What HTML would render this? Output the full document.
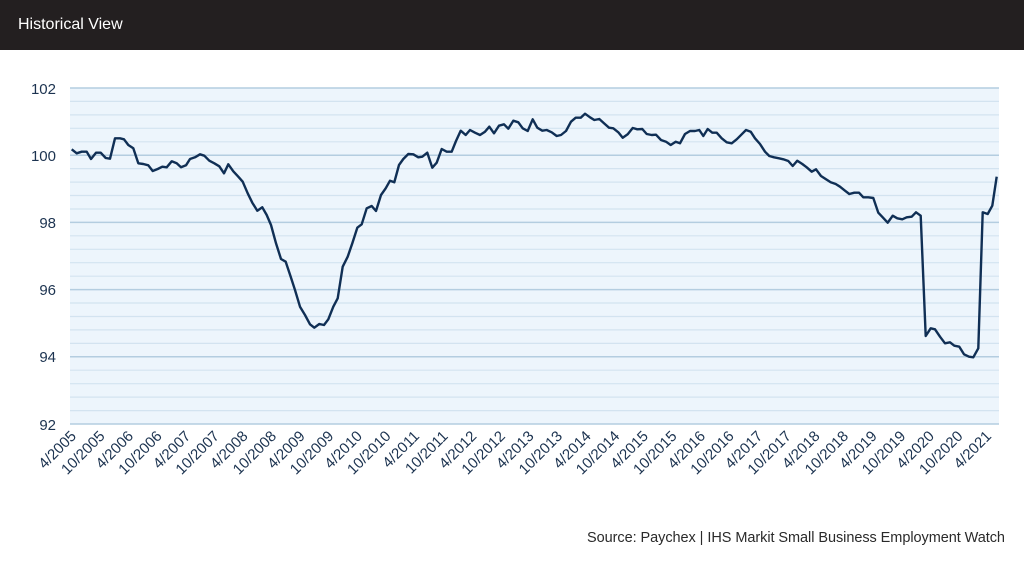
<!DOCTYPE html>
<html><head><meta charset="utf-8"><style>
body{margin:0;width:1024px;height:562px;background:#fff;overflow:hidden;font-family:"Liberation Sans",sans-serif}
</style></head><body>
<svg width="1024" height="562" xmlns="http://www.w3.org/2000/svg" font-family="Liberation Sans, sans-serif">
<rect x="0" y="0" width="1024" height="50" fill="#231f20"/>
<text x="18" y="29" fill="#fff" font-size="16">Historical View</text>
<rect x="70" y="88" width="929" height="336" fill="#edf5fc"/>
<g stroke="#d3e3f0" stroke-width="1.2">
<line x1="70" x2="999" y1="101.4" y2="101.4"/><line x1="70" x2="999" y1="114.9" y2="114.9"/><line x1="70" x2="999" y1="128.3" y2="128.3"/><line x1="70" x2="999" y1="141.8" y2="141.8"/>
<line x1="70" x2="999" y1="168.6" y2="168.6"/><line x1="70" x2="999" y1="182.1" y2="182.1"/><line x1="70" x2="999" y1="195.5" y2="195.5"/><line x1="70" x2="999" y1="209" y2="209"/>
<line x1="70" x2="999" y1="235.8" y2="235.8"/><line x1="70" x2="999" y1="249.3" y2="249.3"/><line x1="70" x2="999" y1="262.7" y2="262.7"/><line x1="70" x2="999" y1="276.2" y2="276.2"/>
<line x1="70" x2="999" y1="303" y2="303"/><line x1="70" x2="999" y1="316.5" y2="316.5"/><line x1="70" x2="999" y1="329.9" y2="329.9"/><line x1="70" x2="999" y1="343.4" y2="343.4"/>
<line x1="70" x2="999" y1="370.2" y2="370.2"/><line x1="70" x2="999" y1="383.7" y2="383.7"/><line x1="70" x2="999" y1="397.1" y2="397.1"/><line x1="70" x2="999" y1="410.6" y2="410.6"/>
</g>
<g stroke="#b4cde0" stroke-width="1.5">
<line x1="70" x2="999" y1="88" y2="88"/><line x1="70" x2="999" y1="155.2" y2="155.2"/><line x1="70" x2="999" y1="222.4" y2="222.4"/><line x1="70" x2="999" y1="289.6" y2="289.6"/><line x1="70" x2="999" y1="356.8" y2="356.8"/><line x1="70" x2="999" y1="424" y2="424"/>
</g>
<g fill="#1c3350" font-size="15" text-anchor="end">
<text x="56" y="94">102</text><text x="56" y="161">100</text><text x="56" y="228">98</text><text x="56" y="295">96</text><text x="56" y="362">94</text><text x="56" y="430">92</text>
</g>
<polyline fill="none" stroke="#102f55" stroke-width="2.4" stroke-linejoin="round" points="71.7,149.3 76.7,153.3 81.7,151.7 86.7,151.7 91,159 96,152.7 100.7,152.7 105.7,158 110,158.7 115,138.3 120,138.3 124,139.3 128.3,145 133.3,148.3 138.3,163.3 143.3,164 148.3,165.3 152.7,171 157.7,169 162.3,166.7 166.7,167.3 171.7,161.3 176.7,163.3 181,167.3 186,165.3 190,159 195,157.3 200,154.3 204.3,155.7 209.3,160.7 214.3,163.3 219.3,166.3 224,173.3 228.3,164.3 233.3,171.3 238.3,176.7 242.7,181.7 247.7,193.3 252.3,202.7 257.3,210.7 262.3,207.3 266.7,215 271,225 276,243.3 281,259 285.7,261.7 290.7,276.7 295,290 300,306.7 305,315 310,324.3 314.3,327.7 319.3,324 324,325 328.3,319.3 333.3,306.7 337.7,298.3 342.7,266.7 347.7,256.7 352.3,243.3 357.3,227.7 361.7,224.3 366.7,208.3 371.7,206 376,211 381,195 385.7,188.3 390,180.7 394.3,182.3 399,165 403.3,159 408.3,154 413.3,154.3 418.3,157.3 422.3,156.7 427.3,152.7 432.3,167.7 436.7,162.7 441.7,149 446.7,151.7 451.7,151.7 456,141 460.7,130.7 465.7,135 470,130 475,132.7 480,135 485,131.7 489.3,126.7 494,133.3 499,125.7 504,124.3 508.3,128.7 513.3,120.7 518.3,122.3 522.7,128.3 527.7,131 532.7,119.3 537.3,127.7 542.3,130.7 546.7,130 551.7,132.3 556.7,136 561,135 566,131 571,121.7 575.7,117.7 580.7,117.7 585,113.7 590,117.3 594.3,120 599.3,119 604,123.3 609,127.7 613.3,128.3 618.3,132.3 622.7,137.7 627.7,134.3 632.7,128 637.3,129.3 642.3,129 646.7,134 651.7,135 656,134.7 661,140 666,141.7 670.7,145 675.7,141.7 680,143.3 685,134 690,131 695,131 699.3,130 703.3,136 707.7,129 712.3,132.7 716.7,132.7 721.7,138.3 726.7,142.3 731.7,143.3 736.7,139.3 741.7,134.3 746,130 750.7,131.7 755,138.3 760,144 765,151.7 769.3,156 774,157.3 779,158.3 783.3,159.3 788.3,161 792.7,166 797.3,160.7 802.3,164 806.7,167.3 811.7,171.7 816,169.3 821,176 826,179.3 830.7,182.3 835.7,184 840,186.7 845,190.7 849.3,194 854.3,192.7 859,192.7 863.3,197.3 868.3,197.3 873.3,198 878.3,212.7 882.7,217.3 887.7,222.7 892.7,215.7 897.3,218.3 902.3,219.3 906.7,217.3 911.7,216.7 916,212.3 920.7,215.7 925.7,336 930.7,328.3 935,329.3 940,336.7 945,343.3 950,342.3 954.3,345.7 959.3,346.7 964,354.3 969,356.7 973.3,357.3 978.3,348.3 982.7,212.3 987.7,214 992.3,205.7 996.7,176.7"/>
<g fill="#1c3350" font-size="15" text-anchor="end">
<text transform="translate(77,437) rotate(-45)">4/2005</text>
<text transform="translate(105.6,437) rotate(-45)">10/2005</text>
<text transform="translate(134.2,437) rotate(-45)">4/2006</text>
<text transform="translate(162.8,437) rotate(-45)">10/2006</text>
<text transform="translate(191.4,437) rotate(-45)">4/2007</text>
<text transform="translate(220,437) rotate(-45)">10/2007</text>
<text transform="translate(248.6,437) rotate(-45)">4/2008</text>
<text transform="translate(277.2,437) rotate(-45)">10/2008</text>
<text transform="translate(305.8,437) rotate(-45)">4/2009</text>
<text transform="translate(334.4,437) rotate(-45)">10/2009</text>
<text transform="translate(363,437) rotate(-45)">4/2010</text>
<text transform="translate(391.6,437) rotate(-45)">10/2010</text>
<text transform="translate(420.2,437) rotate(-45)">4/2011</text>
<text transform="translate(448.8,437) rotate(-45)">10/2011</text>
<text transform="translate(477.4,437) rotate(-45)">4/2012</text>
<text transform="translate(506,437) rotate(-45)">10/2012</text>
<text transform="translate(534.6,437) rotate(-45)">4/2013</text>
<text transform="translate(563.2,437) rotate(-45)">10/2013</text>
<text transform="translate(591.8,437) rotate(-45)">4/2014</text>
<text transform="translate(620.4,437) rotate(-45)">10/2014</text>
<text transform="translate(649,437) rotate(-45)">4/2015</text>
<text transform="translate(677.6,437) rotate(-45)">10/2015</text>
<text transform="translate(706.2,437) rotate(-45)">4/2016</text>
<text transform="translate(734.8,437) rotate(-45)">10/2016</text>
<text transform="translate(763.4,437) rotate(-45)">4/2017</text>
<text transform="translate(792,437) rotate(-45)">10/2017</text>
<text transform="translate(820.6,437) rotate(-45)">4/2018</text>
<text transform="translate(849.2,437) rotate(-45)">10/2018</text>
<text transform="translate(877.8,437) rotate(-45)">4/2019</text>
<text transform="translate(906.4,437) rotate(-45)">10/2019</text>
<text transform="translate(935,437) rotate(-45)">4/2020</text>
<text transform="translate(963.6,437) rotate(-45)">10/2020</text>
<text transform="translate(992.2,437) rotate(-45)">4/2021</text>
</g>
<text x="1005" y="542" fill="#2a2a2a" font-size="14.5" text-anchor="end" textLength="418">Source: Paychex | IHS Markit Small Business Employment Watch</text>
</svg>
</body></html>
